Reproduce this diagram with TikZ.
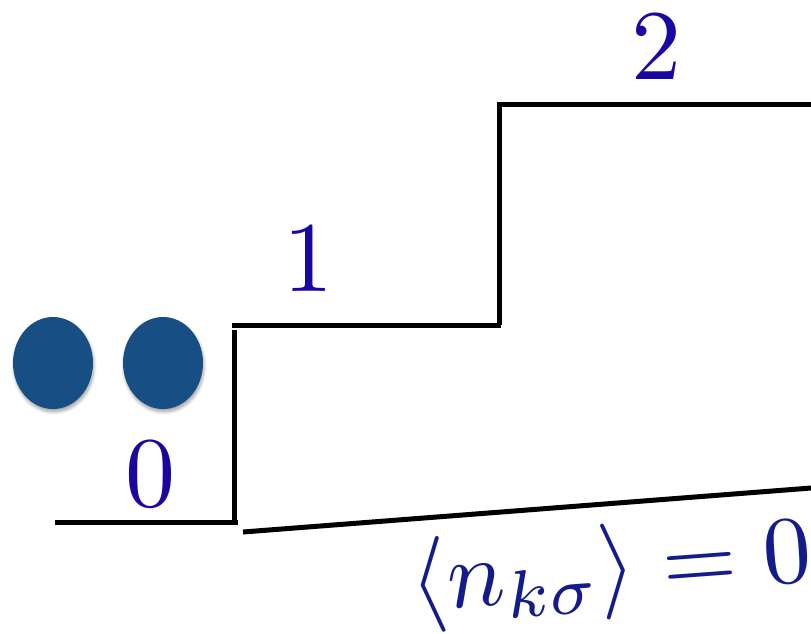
\documentclass[tikz,border=0pt]{standalone}
\usetikzlibrary{shapes.geometric,shadows.blur}
\definecolor{digitblue}{RGB}{26,6,160}
\definecolor{formblue}{RGB}{20,28,140}
\definecolor{electron}{RGB}{23,79,133}
\tikzset{
  level/.style={line width=5pt, black},
  digit/.style={text=digitblue, anchor=base, inner sep=0pt, scale=10},
  electronball/.style={ellipse, fill=electron, minimum width=80pt, minimum height=92pt, inner sep=0pt,
    blur shadow={shadow blur steps=6, shadow xshift=1pt, shadow yshift=-3pt, shadow opacity=35, shadow blur radius=3pt}},
}
\begin{document}
\begin{tikzpicture}[x=1pt,y=-1pt]
\useasboundingbox (0,0) rectangle (811,633);
\begin{scope}
\clip (0,0) rectangle (811,633);
% staircase
\coordinate (a0) at (55,522.5);
\coordinate (a1) at (238,522.5);
\coordinate (b0) at (234.5,522);
\coordinate (b1) at (234.5,330);
\coordinate (c0) at (232,325.5);
\coordinate (c1) at (501,325.5);
\coordinate (d0) at (499,325);
\coordinate (d1) at (499,104);
\coordinate (e0) at (497,104);
\coordinate (e1) at (815,104);
\coordinate (f0) at (243,532);
\coordinate (f1) at (815,487.7);
\draw[level] (a0) -- (a1);
\draw[level] (b0) -- (b1);
\draw[level] (c0) -- (c1);
\draw[level] (d0) -- (d1);
\draw[level] (e0) -- (e1);
\draw[level] (f0) -- (f1);
% electrons
\node[electronball] (el1) at (53,363) {};
\node[electronball] (el2) at (163,363) {};
% labels
\node[digit] (l0) at (150,506) {0};
\node[digit] (l1) at (308,291) {1};
\node[digit] (l2) at (656,79) {2};
\node[text=formblue, anchor=base, inner sep=0pt, rotate=4.24, scale=9.6]
  (occ) at (613,596) {$\langle n_{k\sigma}\rangle = 0$};
\end{scope}
\end{tikzpicture}
\end{document}
